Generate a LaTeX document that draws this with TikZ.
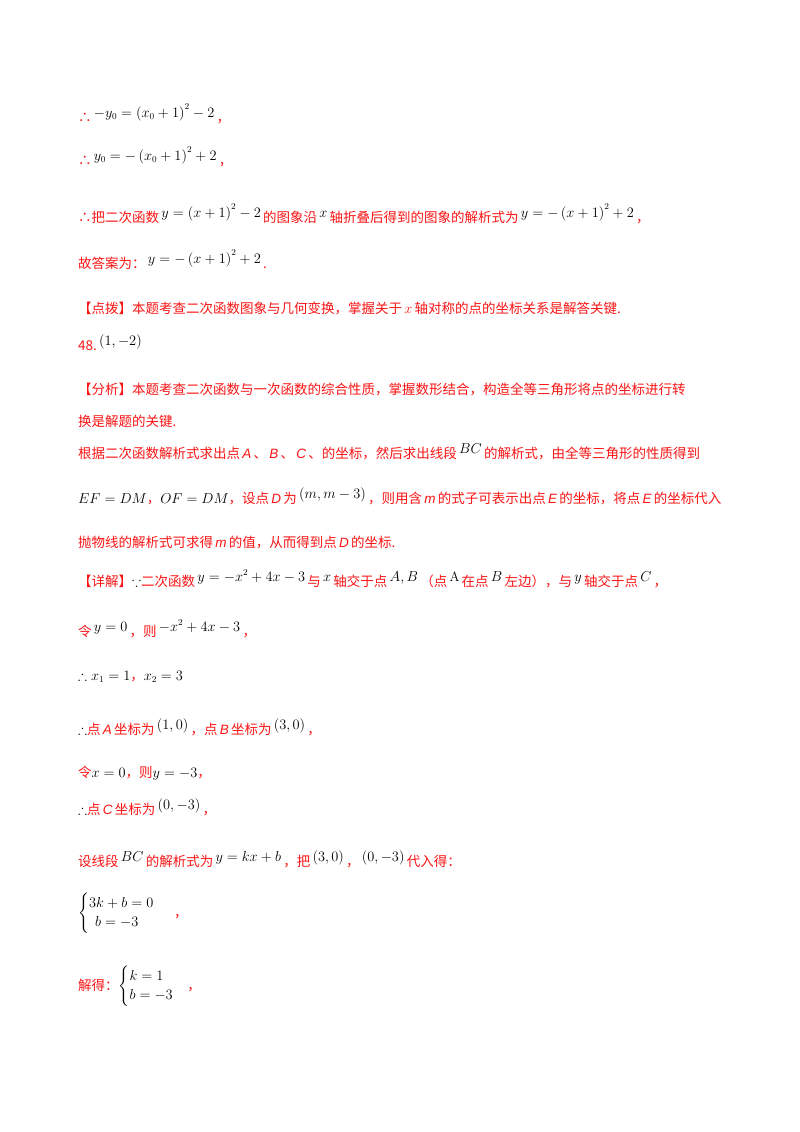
\documentclass[tikz,border=0pt]{standalone}
\usepackage{amsmath,amssymb}
\usepackage{fontspec}
\newfontfamily\cjk{Noto Sans CJK SC}
\newfontfamily\lat{Liberation Sans}
\definecolor{rd}{RGB}{250,20,20}
\newcommand{\mr}[1]{\,\raisebox{5pt}{\textcolor{black}{$#1$}}\,}
\newcommand{\mk}[1]{\textcolor{black}{$#1$}}
\newcommand{\iv}[1]{\,{\lat\itshape #1}\,}
\begin{document}
\begin{tikzpicture}[x=1pt,y=-1pt,
  ln/.style={anchor=base west,inner sep=0pt,text=rd,font=\cjk\fontsize{13.5}{16}\selectfont}]
\useasboundingbox (0,0) rectangle (800,1132);
\node[ln] (l1) at (78,122) {∴\mr{-y_0=\left(x_0+1\right)^2-2}，};
\node[ln] (l2) at (78,165) {∴\mr{y_0=-\left(x_0+1\right)^2+2}，};
\node[ln] (l3) at (78,222) {∴把二次函数\mr{y=\left(x+1\right)^2-2}的图象沿\mr{x}轴折叠后得到的图象的解析式为\mr{y=-\left(x+1\right)^2+2}，};
\node[ln] (l4) at (78,268) {故答案为：\mr{y=-\left(x+1\right)^2+2}.};
\node[ln] (l5) at (78,313) {【点拨】本题考查二次函数图象与几何变换，掌握关于\,$x$\,轴对称的点的坐标关系是解答关键.};
\node[ln] (l6) at (78,350) {48.\mr{\left(1,-2\right)}};
\node[ln] (l7) at (78,394) {【分析】本题考查二次函数与一次函数的综合性质，掌握数形结合，构造全等三角形将点的坐标进行转};
\node[ln] (l8) at (78,426) {换是解题的关键.};
\node[ln] (l9) at (78,458) {根据二次函数解析式求出点\iv{A}、\iv{B}、\iv{C}、的坐标，然后求出线段\mr{BC}的解析式，由全等三角形的性质得到};
\node[ln] (l10) at (78,503) {\mk{EF=DM}，\mk{OF=DM}，设点\iv{D}为\mr{\left(m,m-3\right)}，则用含\iv{m}的式子可表示出点\iv{E}的坐标，将点\iv{E}的坐标代入};
\node[ln] (l11) at (78,547) {抛物线的解析式可求得\iv{m}的值，从而得到点\iv{D}的坐标.};
\node[ln] (l12) at (78,586) {【详解】\mk{\because}二次函数\mr{y=-x^2+4x-3}与\mr{x}轴交于点\mr{A,B}（点\mr{\mathrm{A}}在点\mr{B}左边），与\mr{y}轴交于点\mr{C}，};
\node[ln] (l13) at (78,636) {令\mr{y=0}，则\mr{-x^2+4x-3}，};
\node[ln] (l14) at (78,680) {\mk{\therefore x_1=1}，\mk{x_2=3}};
\node[ln] (l15) at (78,734) {\mk{\therefore}点\iv{A}坐标为\mr{\left(1,0\right)}，点\iv{B}坐标为\mr{\left(3,0\right)}，};
\node[ln] (l16) at (78,777) {令\mk{x=0}，则\mk{y=-3}，};
\node[ln] (l17) at (78,814) {\mk{\therefore}点\iv{C}坐标为\mr{\left(0,-3\right)}，};
\node[ln] (l18) at (78,866) {设线段\mr{BC}的解析式为\mr{y=kx+b}，把\mr{\left(3,0\right)}，\mr{\left(0,-3\right)}代入得：};
\node[ln] (l19) at (78,917) {\mk{\begin{cases}3k+b=0\\ \ \ b=-3\end{cases}}\ \ ，};
\node[ln] (l20) at (78,990) {解得：\mk{\begin{cases}k=1\\ b=-3\end{cases}}，};
\end{tikzpicture}
\end{document}
